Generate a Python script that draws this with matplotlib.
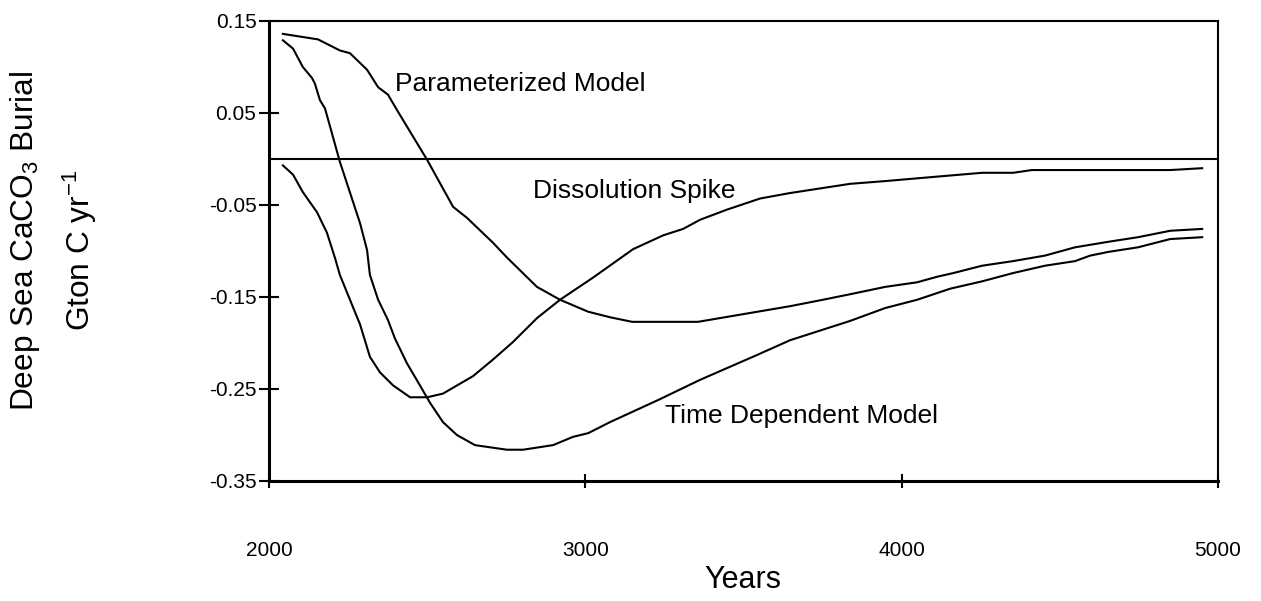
import matplotlib.pyplot as plt

plt.rcParams['font.family'] = ['Liberation Sans', 'DejaVu Sans']
plt.rcParams['mathtext.fontset'] = 'custom'
plt.rcParams['mathtext.rm'] = 'Liberation Sans'
plt.rcParams['mathtext.it'] = 'Liberation Sans:italic'

# Parameterized model
pm_years = [2044, 2155, 2224, 2256, 2310, 2345, 2376, 2405, 2500, 2582, 2626, 2708,
            2752, 2847, 2920, 3009, 3078, 3148, 3356, 3647, 3751, 3837, 3948, 4049,
            4112, 4163, 4254, 4352, 4453, 4548, 4653, 4747, 4849, 4950]
pm_vals = [0.136, 0.130, 0.118, 0.115, 0.097, 0.078, 0.070, 0.053, -0.001, -0.052,
           -0.064, -0.091, -0.107, -0.139, -0.153, -0.166, -0.172, -0.177, -0.177,
           -0.160, -0.153, -0.147, -0.139, -0.134, -0.128, -0.124, -0.116, -0.111,
           -0.105, -0.096, -0.090, -0.085, -0.078, -0.076]

# Time dependent model
td_years = [2044, 2076, 2107, 2136, 2145, 2161, 2177, 2224, 2288, 2310, 2319, 2345,
            2376, 2398, 2436, 2477, 2509, 2550, 2594, 2651, 2752, 2803, 2898, 2961,
            3009, 3078, 3230, 3363, 3543, 3647, 3837, 3948, 4049, 4153, 4254, 4352,
            4453, 4548, 4596, 4653, 4747, 4849, 4950]
td_vals = [0.129, 0.120, 0.100, 0.088, 0.082, 0.064, 0.055, -0.003, -0.070, -0.099,
           -0.126, -0.153, -0.175, -0.195, -0.222, -0.246, -0.265, -0.286, -0.300,
           -0.311, -0.316, -0.316, -0.311, -0.302, -0.298, -0.286, -0.262, -0.240,
           -0.213, -0.197, -0.176, -0.162, -0.153, -0.141, -0.133, -0.124, -0.116,
           -0.111, -0.105, -0.101, -0.096, -0.087, -0.085]

# Dissolution spike
ds_years = [2044, 2076, 2107, 2152, 2183, 2209, 2224, 2256, 2288, 2319, 2351, 2392,
            2446, 2500, 2550, 2645, 2708, 2771, 2847, 2920, 3024, 3151, 3246, 3309,
            3363, 3448, 3552, 3647, 3837, 3948, 4049, 4254, 4352, 4412, 4849, 4950]
ds_vals = [-0.007, -0.017, -0.036, -0.058, -0.080, -0.108, -0.126, -0.153, -0.180,
           -0.215, -0.232, -0.246, -0.259, -0.259, -0.255, -0.236, -0.218, -0.199,
           -0.173, -0.153, -0.129, -0.098, -0.083, -0.076, -0.066, -0.055, -0.043,
           -0.037, -0.027, -0.024, -0.021, -0.015, -0.015, -0.012, -0.012, -0.010]

# the spike itself at year 2000
spike_years = [2000, 2000]
spike_vals = [0.0, -0.35]

yticks = [0.15, 0.05, -0.05, -0.15, -0.25, -0.35]
xticks = [2000, 3000, 4000, 5000]

fig = plt.figure(figsize=(12.61, 6.01), dpi=100)
ax = fig.add_axes([269 / 1261, 1 - 481 / 601, (1218 - 269) / 1261, (481 - 21) / 601])

ax.plot(pm_years, pm_vals, color='black', lw=1.5)
ax.plot(td_years, td_vals, color='black', lw=1.5)
ax.plot(ds_years, ds_vals, color='black', lw=1.5)
ax.plot(spike_years, spike_vals, color='black', lw=2, clip_on=False)
ax.axhline(0, color='black', lw=1.5)

ax.text(2398, 0.082, 'Parameterized Model', fontsize=19, va='center')
ax.text(2835, -0.035, 'Dissolution Spike', fontsize=19, va='center')
ax.text(3252, -0.279, 'Time Dependent Model', fontsize=19, va='center')

ax.set_xlim(2000, 5000)
ax.set_ylim(-0.35, 0.15)
ax.set_xticks(xticks)
ax.set_yticks(yticks)
ax.set_xticklabels([str(x) for x in xticks])
ax.set_yticklabels(['%.2f' % y for y in yticks])
ax.tick_params(axis='y', direction='inout', length=14, width=1.5, labelsize=15, pad=2)
ax.tick_params(axis='x', direction='inout', length=10, width=1.5, labelsize=15, pad=38)

for side in ['top', 'right']:
    ax.spines[side].set_linewidth(1.5)
for side in ['left', 'bottom']:
    ax.spines[side].set_linewidth(2.2)

fig.text(743 / 1261, 1 - 580 / 601, 'Years', fontsize=22, ha='center', va='center')
fig.text(25 / 1261, 1 - 241 / 601, r'Deep Sea CaCO$_3$ Burial', fontsize=22.8,
         rotation=90, ha='center', va='center')
fig.text(80 / 1261, 1 - 250 / 601, r'Gton C yr$^{\mathregular{-1}}$', fontsize=22.8,
         rotation=90, ha='center', va='center')

fig.savefig('out.png', dpi=100)
